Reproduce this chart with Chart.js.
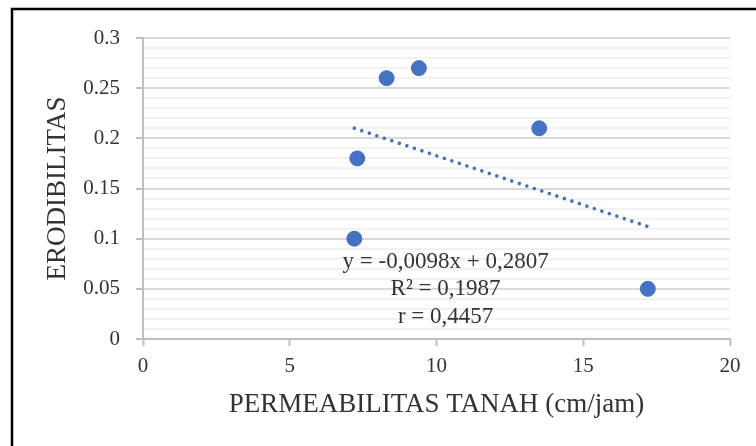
<!DOCTYPE html>
<html>
<head>
<meta charset="utf-8">
<script src="https://cdn.jsdelivr.net/npm/chart.js@4/dist/chart.umd.min.js"></script>
<style>
  html, body { margin: 0; padding: 0; background: #fff; }
  canvas { display: block; }
</style>
</head>
<body>
<canvas id="c" width="756" height="446"></canvas>
<script>
/* ---- datos ---- */
const permeabilitas = [7.2, 7.3, 8.3, 9.4, 13.5, 17.2];
const erodibilitas = [0.10, 0.18, 0.26, 0.27, 0.21, 0.05];

// línea de tendencia (extremos de la recta y = -0,0098x + 0,2807)
const trendX = [7.2, 17.2];
const trendY = [0.2101, 0.1121];

const xTicks = [0, 5, 10, 15, 20];
const yTickLabels = ['0', '0.05', '0.1', '0.15', '0.2', '0.25', '0.3'];

const anotasi = ['y = -0,0098x + 0,2807', 'R² = 0,1987', 'r = 0,4457'];
const anotasiX = 10.31;
const anotasiY = [0.077, 0.0498, 0.0222];

const SERIF = "'Liberation Serif', 'DejaVu Serif', serif";
const BIRU = '#4472C4';
const TEKS = '#333333';

const esMayor = v => Math.round(v * 100) % 5 === 0;

/* marco negro y texto de la ecuación */
const marco = {
  id: 'marco',
  beforeDraw(chart) {
    const ctx = chart.ctx;
    ctx.save();
    ctx.fillStyle = '#fff';
    ctx.fillRect(0, 0, chart.width, chart.height);
    ctx.strokeStyle = '#000';
    ctx.lineWidth = 2.5;
    ctx.beginPath();
    ctx.moveTo(12, chart.height);
    ctx.lineTo(12, 9);
    ctx.lineTo(chart.width, 9);
    ctx.stroke();
    ctx.restore();
  },
  afterDatasetsDraw(chart) {
    const { ctx, scales: { x, y } } = chart;
    ctx.save();
    ctx.font = `23px ${SERIF}`;
    ctx.fillStyle = TEKS;
    ctx.textAlign = 'center';
    ctx.textBaseline = 'middle';
    anotasi.forEach((t, i) => {
      ctx.fillText(t, x.getPixelForValue(anotasiX), y.getPixelForValue(anotasiY[i]));
    });
    ctx.restore();
  }
};

new Chart(document.getElementById('c'), {
  type: 'scatter',
  data: {
    datasets: [
      {
        label: 'Erodibilitas',
        data: permeabilitas.map((v, i) => ({ x: v, y: erodibilitas[i] })),
        backgroundColor: BIRU,
        borderColor: BIRU,
        pointRadius: 7.5,
        pointHoverRadius: 7.5,
        order: 1
      },
      {
        label: 'Tren',
        type: 'line',
        data: trendX.map((v, i) => ({ x: v, y: trendY[i] })),
        borderColor: BIRU,
        borderWidth: 3.6,
        borderDash: [0.01, 7.9],
        borderCapStyle: 'round',
        pointRadius: 0,
        fill: false,
        order: 2
      }
    ]
  },
  options: {
    responsive: false,
    animation: false,
    devicePixelRatio: 1,
    layout: { padding: { left: 0, top: 38, right: 26, bottom: 0 } },
    plugins: { legend: { display: false }, tooltip: { enabled: false } },
    scales: {
      x: {
        type: 'linear',
        min: 0, max: 20,
        afterBuildTicks: s => { s.ticks = xTicks.map(v => ({ value: v })); },
        afterFit: s => { s.height = 446 - 339; },
        border: { color: '#BFBFBF', width: 2 },
        grid: { drawOnChartArea: false, drawTicks: true, tickLength: 7, tickColor: '#BFBFBF', tickWidth: 2 },
        ticks: { color: TEKS, font: { family: SERIF, size: 21 }, padding: 8, maxRotation: 0 },
        title: {
          display: true,
          text: 'PERMEABILITAS TANAH (cm/jam)',
          color: TEKS,
          font: { family: SERIF, size: 27 },
          padding: { top: 0, bottom: 25 }
        }
      },
      y: {
        min: 0, max: 0.3,
        ticks: {
          stepSize: 0.01,
          autoSkip: false,
          color: TEKS,
          font: { family: SERIF, size: 21 },
          padding: 16,
          callback: v => esMayor(v) ? yTickLabels[Math.round(v * 100) / 5] : ''
        },
        afterFit: s => { s.width = 143; },
        border: { color: '#BFBFBF', width: 2 },
        grid: {
          lineWidth: 2,
          color: c => esMayor(c.tick.value) ? '#D9D9D9' : '#F2F2F2',
          tickLength: 7,
          tickWidth: 2,
          tickColor: c => esMayor(c.tick.value) ? '#BFBFBF' : 'rgba(0,0,0,0)'
        },
        title: {
          display: true,
          text: 'ERODIBILITAS',
          color: TEKS,
          font: { family: SERIF, size: 27 },
          padding: { top: 42, bottom: 0 }
        }
      }
    }
  },
  plugins: [marco]
});
</script>
</body>
</html>
